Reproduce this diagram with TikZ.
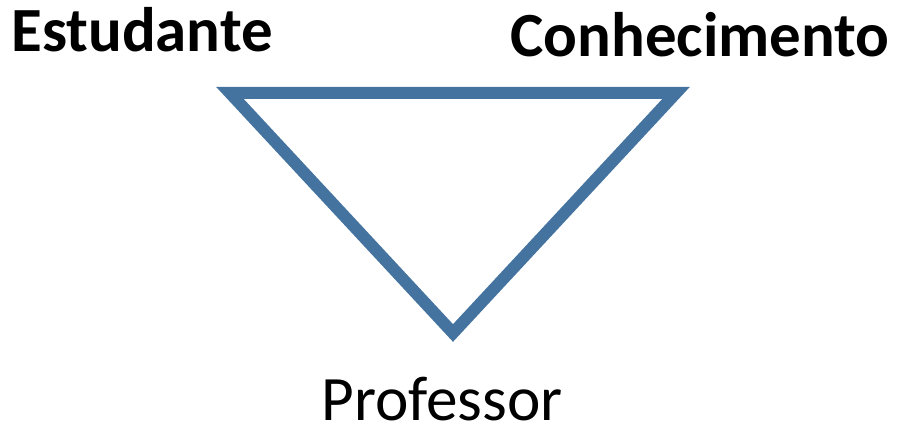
\documentclass[tikz,border=0pt]{standalone}
\usepackage{fontspec}
\setmainfont{Carlito}
\usetikzlibrary{positioning}
\definecolor{triblue}{HTML}{44739F}
\tikzset{
  vlabel/.style  = {anchor=base, inner sep=0pt, font=\fontsize{35.8}{42}\selectfont\bfseries},
  plabel/.style  = {anchor=base, inner sep=0pt, text depth=0pt, font=\fontsize{36}{42}\selectfont},
  triedge/.style = {draw=triblue, line width=12*0.02cm, miter limit=10},
}
\begin{document}
\begin{tikzpicture}[x=0.02cm, y=-0.02cm]
\useasboundingbox (0,0) rectangle (899,432);
% vertices of the inverted triangle
\coordinate (est) at (230,93);
\coordinate (con) at (676,93);
\coordinate (pro) at (453,333);
\draw[triedge] (est) -- (con) -- (pro) -- cycle;
% labels
\node[vlabel] (estlabel) at (142,52) {Estudante};
\node[vlabel] (conlabel) at (700,57) {Conhecimento};
\node[plabel] (prolabel) at (442,420) {Professor};
\end{tikzpicture}
\end{document}
